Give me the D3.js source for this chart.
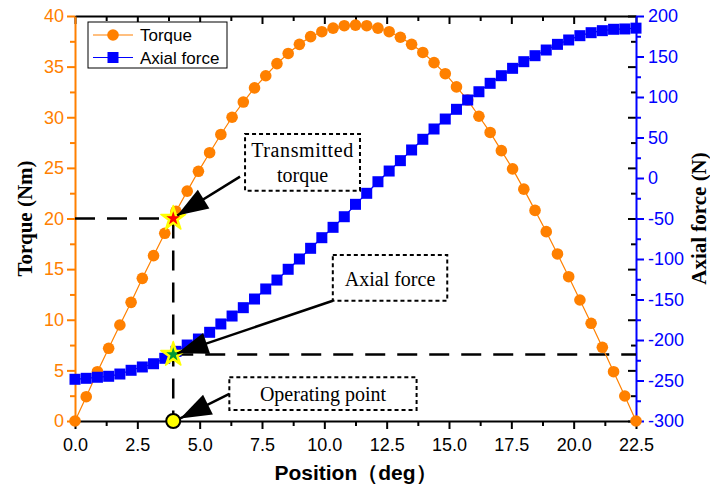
<!DOCTYPE html>
<html>
<head>
<meta charset="utf-8">
<script src="https://cdn.jsdelivr.net/npm/d3@7"></script>
<style>
  body { margin: 0; background: #fff; }
  .chart { width: 710px; height: 489px; }
</style>
</head>
<body>
<div class="chart"></div>
<script>
// ---------------------------------- DATA

// rotor position (deg)
var positions = [0, 0.45, 0.9, 1.35, 1.8, 2.25, 2.7, 3.15, 3.6, 4.05,
  4.5, 4.95, 5.4, 5.85, 6.3, 6.75, 7.2, 7.65, 8.1, 8.55,
  9, 9.45, 9.9, 10.35, 10.8, 11.25, 11.7, 12.15, 12.6, 13.05,
  13.5, 13.95, 14.4, 14.85, 15.3, 15.75, 16.2, 16.65, 17.1, 17.55,
  18, 18.45, 18.9, 19.35, 19.8, 20.25, 20.7, 21.15, 21.6, 22.05, 22.5];

// torque (Nm)
var torque = [0, 2.4, 4.87, 7.18, 9.48, 11.72, 14.09, 16.33, 18.54, 20.7,
  22.7, 24.66, 26.5, 28.3, 30.0, 31.5, 32.9, 34.1, 35.3, 36.3,
  37.2, 37.96, 38.45, 38.8, 39.04, 39.1, 39.04, 38.8, 38.45, 37.9,
  37.2, 36.4, 35.4, 34.3, 33.0, 31.7, 30.1, 28.5, 26.7, 24.9,
  22.9, 20.8, 18.7, 16.5, 14.25, 11.95, 9.65, 7.28, 4.87, 2.47, 0];

// axial force (N)
var axialForce = [-248.5, -247.3, -246, -244.8, -242, -237.4, -233.3, -229.3, -222.6, -214,
  -206.2, -198.8, -190.5, -180.2, -170.4, -160.1, -149.4, -137, -126, -112.7,
  -100, -86.8, -73.7, -60.9, -47.8, -32.5, -18.9, -4.6, 8.6, 21.4,
  34.6, 47.8, 60.5, 72.8, 84.8, 96.3, 106.5, 116.9, 126.3, 135.4,
  143.6, 151, 158, 165, 170.4, 175.7, 179.4, 181.9, 183.6, 184, 185];

// operating point
var opPosition = 3.94;
var opTorque = 20;
var opForce = -218;

// ticks
var xTicks = [0, 2.5, 5, 7.5, 10, 12.5, 15, 17.5, 20, 22.5];
var xMinor = [1.25, 3.75, 6.25, 8.75, 11.25, 13.75, 16.25, 18.75, 21.25];
var torqueTicks = [0, 5, 10, 15, 20, 25, 30, 35, 40];
var torqueMinor = [2.5, 7.5, 12.5, 17.5, 22.5, 27.5, 32.5, 37.5];
var forceTicks = [-300, -250, -200, -150, -100, -50, 0, 50, 100, 150, 200];
var forceMinor = [-275, -225, -175, -125, -75, -25, 25, 75, 125, 175];

// ---------------------------------- VARIABLES

var width = 710;
var height = 489;
var margin = {left: 75, right: 74, top: 16, bottom: 68};
var orange = "#ff8000";
var blue = "#0000ff";
var sans = "'Liberation Sans', Arial, sans-serif";
var serif = "'Liberation Serif', 'Times New Roman', serif";

var series = positions.map(function(p, i) {
  return {x: p, t: torque[i], f: axialForce[i]};
});

var svg = d3.select(".chart").append("svg")
  .attr("width", width)
  .attr("height", height);

var x = d3.scaleLinear()
  .domain([0, 22.5])
  .range([margin.left, width - margin.right]);

var yT = d3.scaleLinear()
  .domain([0, 40])
  .range([height - margin.bottom, margin.top]);

var yF = d3.scaleLinear()
  .domain([-300, 200])
  .range([height - margin.bottom, margin.top]);

var x0 = margin.left, x1 = width - margin.right;
var y0 = height - margin.bottom, y1 = margin.top;

// arrow head
svg.append("defs").append("marker")
  .attr("id", "head")
  .attr("markerUnits", "userSpaceOnUse")
  .attr("viewBox", "-32 -12 34 24")
  .attr("refX", 0)
  .attr("refY", 0)
  .attr("markerWidth", 34)
  .attr("markerHeight", 24)
  .attr("orient", "auto")
  .append("path")
  .attr("d", "M0,0L-31,-11L-31,11Z")
  .attr("fill", "#000");

// ---------------------------------- AXES

function styleAxis(g, color, fontSize) {
  g.selectAll("path.domain").attr("stroke", color).attr("stroke-width", 2);
  g.selectAll(".tick line").attr("stroke", color).attr("stroke-width", 2);
  g.selectAll(".tick text")
    .attr("fill", color)
    .style("font-family", sans)
    .style("font-size", fontSize + "px");
}

// top mirror ticks (inward)
svg.append("g").attr("transform", "translate(0," + y1 + ")")
  .call(d3.axisTop(x).tickValues(xMinor).tickSize(-5).tickSizeOuter(0).tickFormat(""))
  .call(function(g) { styleAxis(g, "#000", 0); g.select(".domain").remove(); });
svg.append("g").attr("transform", "translate(0," + y1 + ")")
  .call(d3.axisTop(x).tickValues(xTicks).tickSize(-8).tickSizeOuter(0).tickFormat(""))
  .call(function(g) { styleAxis(g, "#000", 0); });

// right mirror ticks of torque axis (inward, black)
svg.append("g").attr("transform", "translate(" + x1 + ",0)")
  .call(d3.axisRight(yT).tickValues(torqueMinor).tickSize(-5).tickSizeOuter(0).tickFormat(""))
  .call(function(g) { styleAxis(g, "#000", 0); g.select(".domain").remove(); });
svg.append("g").attr("transform", "translate(" + x1 + ",0)")
  .call(d3.axisRight(yT).tickValues(torqueTicks).tickSize(-8).tickSizeOuter(0).tickFormat(""))
  .call(function(g) { styleAxis(g, "#000", 0); g.select(".domain").remove(); });

// bottom axis
svg.append("g").attr("transform", "translate(0," + y0 + ")")
  .call(d3.axisBottom(x).tickValues(xMinor).tickSize(5).tickSizeOuter(0).tickFormat(""))
  .call(function(g) { styleAxis(g, "#000", 0); g.select(".domain").remove(); });
svg.append("g").attr("transform", "translate(0," + y0 + ")")
  .call(d3.axisBottom(x).tickValues(xTicks).tickSize(8).tickPadding(9).tickSizeOuter(0)
    .tickFormat(d3.format(".1f")))
  .call(function(g) { styleAxis(g, "#000", 18); });

// left torque axis (orange)
svg.append("g").attr("transform", "translate(" + x0 + ",0)")
  .call(d3.axisLeft(yT).tickValues(torqueMinor).tickSize(5).tickSizeOuter(0).tickFormat(""))
  .call(function(g) { styleAxis(g, orange, 0); g.select(".domain").remove(); });
svg.append("g").attr("transform", "translate(" + x0 + ",0)")
  .call(d3.axisLeft(yT).tickValues(torqueTicks).tickSize(8).tickPadding(3).tickSizeOuter(0)
    .tickFormat(function(d) { return String(d); }))
  .call(function(g) { styleAxis(g, orange, 18); });

// right force axis (blue)
svg.append("g").attr("transform", "translate(" + x1 + ",0)")
  .call(d3.axisRight(yF).tickValues(forceMinor).tickSize(5).tickSizeOuter(0).tickFormat(""))
  .call(function(g) { styleAxis(g, blue, 0); g.select(".domain").remove(); });
svg.append("g").attr("transform", "translate(" + x1 + ",0)")
  .call(d3.axisRight(yF).tickValues(forceTicks).tickSize(8).tickPadding(4).tickSizeOuter(0)
    .tickFormat(function(d) { return String(d); }))
  .call(function(g) { styleAxis(g, blue, 18); });

// axis titles
svg.append("text")
  .attr("transform", "translate(25," + (y0 + y1) / 2 + ") rotate(-90)")
  .attr("text-anchor", "middle")
  .attr("dy", "0.35em")
  .style("font-family", serif)
  .style("font-weight", "bold")
  .style("font-size", "21px")
  .text("Torque (Nm)");

svg.append("text")
  .attr("transform", "translate(699," + (y0 + y1) / 2 + ") rotate(-90)")
  .attr("text-anchor", "middle")
  .attr("dy", "0.35em")
  .style("font-family", serif)
  .style("font-weight", "bold")
  .style("font-size", "21px")
  .text("Axial force (N)");

svg.append("text")
  .attr("x", (x0 + x1) / 2)
  .attr("y", 480)
  .attr("text-anchor", "middle")
  .style("font-family", sans)
  .style("font-weight", "bold")
  .style("font-size", "21px")
  .text("Position\uff08deg\uff09");

// ---------------------------------- DASHED GUIDES

var guides = svg.append("g")
  .attr("stroke", "#000")
  .attr("stroke-width", 2.5)
  .attr("stroke-dasharray", "20,12")
  .attr("fill", "none");

guides.append("line")
  .attr("x1", x0).attr("y1", yT(opTorque))
  .attr("x2", x(opPosition)).attr("y2", yT(opTorque));
guides.append("line")
  .attr("x1", x(opPosition)).attr("y1", yT(opTorque))
  .attr("x2", x(opPosition)).attr("y2", y0);
guides.append("line")
  .attr("x1", x(opPosition)).attr("y1", yF(opForce))
  .attr("x2", x1).attr("y2", yF(opForce));

// ---------------------------------- SERIES

var torqueLine = d3.line()
  .x(function(d) { return x(d.x); })
  .y(function(d) { return yT(d.t); });

var forceLine = d3.line()
  .x(function(d) { return x(d.x); })
  .y(function(d) { return yF(d.f); });

svg.append("path")
  .attr("fill", "none")
  .attr("stroke", orange)
  .attr("stroke-width", 1.2)
  .attr("d", torqueLine(series));

svg.selectAll("circle.torque")
  .data(series)
  .enter().append("circle")
  .attr("class", "torque")
  .attr("cx", function(d) { return x(d.x); })
  .attr("cy", function(d) { return yT(d.t); })
  .attr("r", 5.8)
  .attr("fill", orange);

svg.append("path")
  .attr("fill", "none")
  .attr("stroke", blue)
  .attr("stroke-width", 1.2)
  .attr("d", forceLine(series));

svg.selectAll("rect.force")
  .data(series)
  .enter().append("rect")
  .attr("class", "force")
  .attr("x", function(d) { return x(d.x) - 5.5; })
  .attr("y", function(d) { return yF(d.f) - 5.5; })
  .attr("width", 11)
  .attr("height", 11)
  .attr("fill", blue);

// ---------------------------------- OPERATING POINT MARKS

var bigStar = d3.symbol().type(d3.symbolStar).size(190);
var smallStar = d3.symbol().type(d3.symbolStar).size(60);

[{y: yT(opTorque), color: "#ff0000"}, {y: yF(opForce), color: "#009933"}].forEach(function(s) {
  var g = svg.append("g")
    .attr("transform", "translate(" + x(opPosition) + "," + s.y + ")");
  g.append("path")
    .attr("d", bigStar())
    .attr("fill", "#ffff00")
    .attr("stroke", "#ffff00")
    .attr("stroke-width", 1.5)
    .attr("stroke-linejoin", "round");
  g.append("path")
    .attr("d", smallStar())
    .attr("fill", s.color);
});

svg.append("circle")
  .attr("cx", x(opPosition))
  .attr("cy", y0)
  .attr("r", 7)
  .attr("fill", "#ffff00")
  .attr("stroke", "#000")
  .attr("stroke-width", 2);

// ---------------------------------- ANNOTATIONS (data units, torque axis)

var notes = [
  {lines: ["Transmitted", "torque"], x: [6.82, 11.43], t: [28.35, 22.75], base: [26.1, 23.6],
   from: [6.62, 24.13], to: [4.1, 20.3], toScale: "t"},
  {lines: ["Axial force"], x: [10.34, 14.93], t: [16.4, 11.88], base: [13.33],
   from: [10.34, 11.88], to: [4.1, opForce + 1.5], toScale: "f"},
  {lines: ["Operating point"], x: [6.19, 13.7], t: [4.32, 1.09], base: [2.0],
   from: [6.19, 2.67], to: [4.22, 0.25], toScale: "t"}
];

var noteGroup = svg.selectAll("g.note")
  .data(notes)
  .enter().append("g")
  .attr("class", "note");

noteGroup.append("rect")
  .attr("x", function(d) { return x(d.x[0]); })
  .attr("y", function(d) { return yT(d.t[0]); })
  .attr("width", function(d) { return x(d.x[1]) - x(d.x[0]); })
  .attr("height", function(d) { return yT(d.t[1]) - yT(d.t[0]); })
  .attr("fill", "#fff")
  .attr("stroke", "#000")
  .attr("stroke-width", 2)
  .attr("stroke-dasharray", "4,3");

noteGroup.each(function(d) {
  var g = d3.select(this);
  d.lines.forEach(function(s, i) {
    g.append("text")
      .attr("x", x((d.x[0] + d.x[1]) / 2))
      .attr("y", yT(d.base[i]))
      .attr("text-anchor", "middle")
      .style("font-family", serif)
      .style("font-size", "20px")
      .style("letter-spacing", i === 0 && d.lines.length > 1 ? "0.6px" : "0px")
      .text(s);
  });
  g.append("line")
    .attr("x1", x(d.from[0]))
    .attr("y1", yT(d.from[1]))
    .attr("x2", x(d.to[0]))
    .attr("y2", d.toScale === "f" ? yF(d.to[1]) : yT(d.to[1]))
    .attr("stroke", "#000")
    .attr("stroke-width", 2.5)
    .attr("marker-end", "url(#head)");
});

// ---------------------------------- LEGEND

var legend = svg.append("g").attr("transform", "translate(88,22)");

legend.append("rect")
  .attr("width", 139)
  .attr("height", 46)
  .attr("fill", "#fff")
  .attr("stroke", "#000")
  .attr("stroke-width", 1);

var legendItems = [{name: "Torque", color: orange, shape: "circle"},
                   {name: "Axial force", color: blue, shape: "square"}];

legendItems.forEach(function(item, i) {
  var cy = 13 + i * 22.5;
  legend.append("line")
    .attr("x1", 5).attr("x2", 45)
    .attr("y1", cy).attr("y2", cy)
    .attr("stroke", item.color)
    .attr("stroke-width", 1.2);
  if (item.shape === "circle") {
    legend.append("circle").attr("cx", 25).attr("cy", cy).attr("r", 5.8).attr("fill", item.color);
  } else {
    legend.append("rect").attr("x", 19.5).attr("y", cy - 5.5)
      .attr("width", 11).attr("height", 11).attr("fill", item.color);
  }
  legend.append("text")
    .attr("x", 52)
    .attr("y", cy)
    .attr("dy", "0.36em")
    .style("font-family", sans)
    .style("font-size", "17px")
    .text(item.name);
});
</script>
</body>
</html>
